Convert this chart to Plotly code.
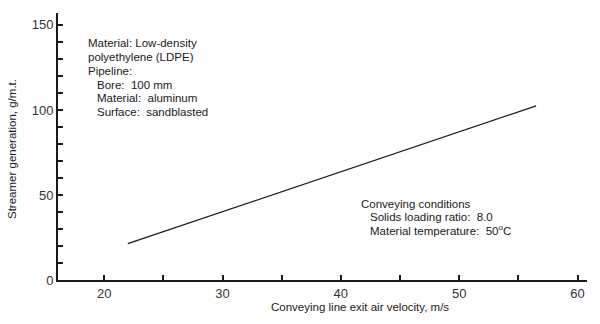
import plotly.graph_objects as go

# Streamer generation vs conveying line exit air velocity (LDPE, aluminium pipeline)
velocity = [22.0, 56.5]          # m/s
streamer = [21.4, 102.4]         # g/m.t.

x_ticks = [20, 30, 40, 50, 60]
y_ticks = [0, 50, 100, 150]

notes_material = [
    ("Material: Low-density", 0),
    ("polyethylene (LDPE)", 0),
    ("Pipeline:", 0),
    ("Bore:  100 mm", 1),
    ("Material:  aluminum", 1),
    ("Surface:  sandblasted", 1),
]
notes_conditions = [
    ("Conveying conditions", 0),
    ("Solids loading ratio:  8.0", 1),
    ("Material temperature:  50<sup>o</sup>C", 1),
]

FONT = "Liberation Sans, Arial, sans-serif"
INK = "#1a1a1a"

W, H = 600, 324
L, R, T, B = 58, 13, 13, 44
PW, PH = W - L - R, H - T - B


def px(x, y):
    """Pixel position in the page -> paper coordinates."""
    return (x - L) / PW, (H - B - y) / PH


fig = go.Figure()
fig.add_trace(go.Scatter(
    x=velocity, y=streamer, mode="lines",
    line=dict(color=INK, width=1.2), showlegend=False, hoverinfo="skip",
))

annotations = []


def add_block(lines, x0, y0, step, indent):
    for i, (txt, ind) in enumerate(lines):
        ax, ay = px(x0 + indent * ind, y0 + step * i)
        annotations.append(dict(
            text=txt, x=ax, y=ay, xref="paper", yref="paper",
            xanchor="left", yanchor="middle", showarrow=False,
            font=dict(family=FONT, size=11.5, color=INK),
        ))


add_block(notes_material, 86, 43.5, 13.7, 9)
add_block(notes_conditions, 359, 204, 13.2, 9)

tx, ty = px(360, 307)
annotations.append(dict(
    text="Conveying line exit air velocity, m/s", x=tx, y=ty,
    xref="paper", yref="paper", xanchor="center", yanchor="middle",
    showarrow=False, font=dict(family=FONT, size=11.5, color=INK),
))
tx, ty = px(12, 149)
annotations.append(dict(
    text="Streamer generation, g/m.t.", x=tx, y=ty, textangle=-90,
    xref="paper", yref="paper", xanchor="center", yanchor="middle",
    showarrow=False, font=dict(family=FONT, size=11.5, color=INK),
))

axis_common = dict(
    showline=True, linecolor=INK, linewidth=2, showgrid=False, zeroline=False,
    ticks="inside", ticklen=5, tickwidth=1.5, tickcolor=INK,
    tickfont=dict(family=FONT, size=13, color="#333333"),
)

fig.update_layout(
    width=W, height=H,
    margin=dict(l=L, r=R, t=T, b=B),
    paper_bgcolor="white", plot_bgcolor="white",
    xaxis=dict(range=[16.1, 60.8], tickvals=x_ticks,
               minor=dict(dtick=5, tick0=0, ticks="inside", ticklen=5,
                          tickwidth=1.5, tickcolor=INK),
               **axis_common),
    yaxis=dict(range=[0, 157], tickvals=y_ticks,
               minor=dict(dtick=10, tick0=0, ticks="inside", ticklen=5,
                          tickwidth=1.5, tickcolor=INK),
               **axis_common),
    annotations=annotations,
)

fig.write_html("out.html")
